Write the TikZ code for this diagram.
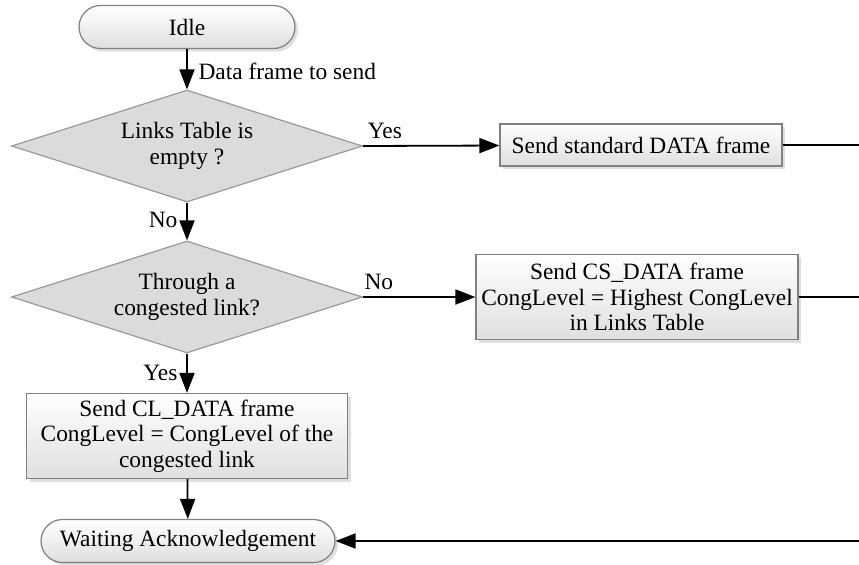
\documentclass[tikz,border=0pt]{standalone}
\usepackage{fontspec}
\setmainfont{Liberation Serif}
\usetikzlibrary{shapes.geometric,shapes.misc,arrows.meta,shadows}

\tikzset{
    txt/.style={font=\fontsize{11.7}{12.8}\selectfont, text=black},
    state/.style={txt, rounded rectangle, draw=gray, line width=0.6pt, top color=white, bottom color=gray!25,
        drop shadow={shadow xshift=1.5pt, shadow yshift=-1.5pt, fill=gray!50}, minimum height=21.5pt, inner sep=0pt},
    test/.style={txt, diamond, aspect=3.13, draw=gray!80, line width=0.6pt, fill=gray!28, inner sep=0pt,
        minimum width=175.5pt, minimum height=56pt, align=center},
    action/.style={txt, rectangle, draw=gray, line width=0.6pt, top color=white, bottom color=gray!25,
        drop shadow={shadow xshift=1.5pt, shadow yshift=-1.5pt, fill=gray!50}, align=center, inner sep=0pt},
    flow/.style={line width=0.9pt, -{Triangle[length=10pt, width=7.5pt]}},
    plain/.style={line width=0.9pt}
}

\begin{document}
\begin{tikzpicture}[x=0.5pt, y=-0.5pt]
    \useasboundingbox (0,0) rectangle (859,564);

    % Nodes
    \node[state, minimum width=108pt] (idle) at (187,27) {Idle};
    \node[test] (empty) at (187,146) {Links Table is\\empty ?};
    \node[action, minimum width=141pt, minimum height=21pt] (std) at (641,145) {Send standard DATA frame};
    \node[test] (cong) at (187,297) {Through a\\congested link?};
    \node[action, minimum width=161pt, minimum height=42.5pt] (cs) at (637,297)
        {Send CS\_DATA frame\\CongLevel = Highest CongLevel\\in Links Table};
    \node[action, minimum width=160.5pt, minimum height=42.5pt] (cl) at (187,436)
        {Send CL\_DATA frame\\CongLevel = CongLevel of the\\congested link};
    \node[state, minimum width=147pt] (wait) at (188,541) {Waiting Acknowledgement};

    \coordinate (out1) at (859,145);
    \coordinate (out2) at (859,297);
    \coordinate (in3) at (859,541);

    % Edges
    \draw[flow] (idle) -- node[txt, right=2pt, pos=0.55] {Data frame to send} (empty);
    \draw[flow] (empty.east) -- node[txt, pos=0.16, above=0pt] {Yes} (std);
    \draw[plain] (std) -- (out1);
    \draw[flow] (empty) -- node[txt, left=1pt, pos=0.45] {No} (cong);
    \draw[flow] (cong.east) -- node[txt, pos=0.14, above=0pt] {No} (cs);
    \draw[plain] (cs) -- (out2);
    \draw[flow] (cong) -- node[txt, left=1pt, pos=0.5] {Yes} (cl);
    \draw[flow] (cl) -- (wait);
    \draw[flow] (in3) -- (wait);
\end{tikzpicture}
\end{document}
